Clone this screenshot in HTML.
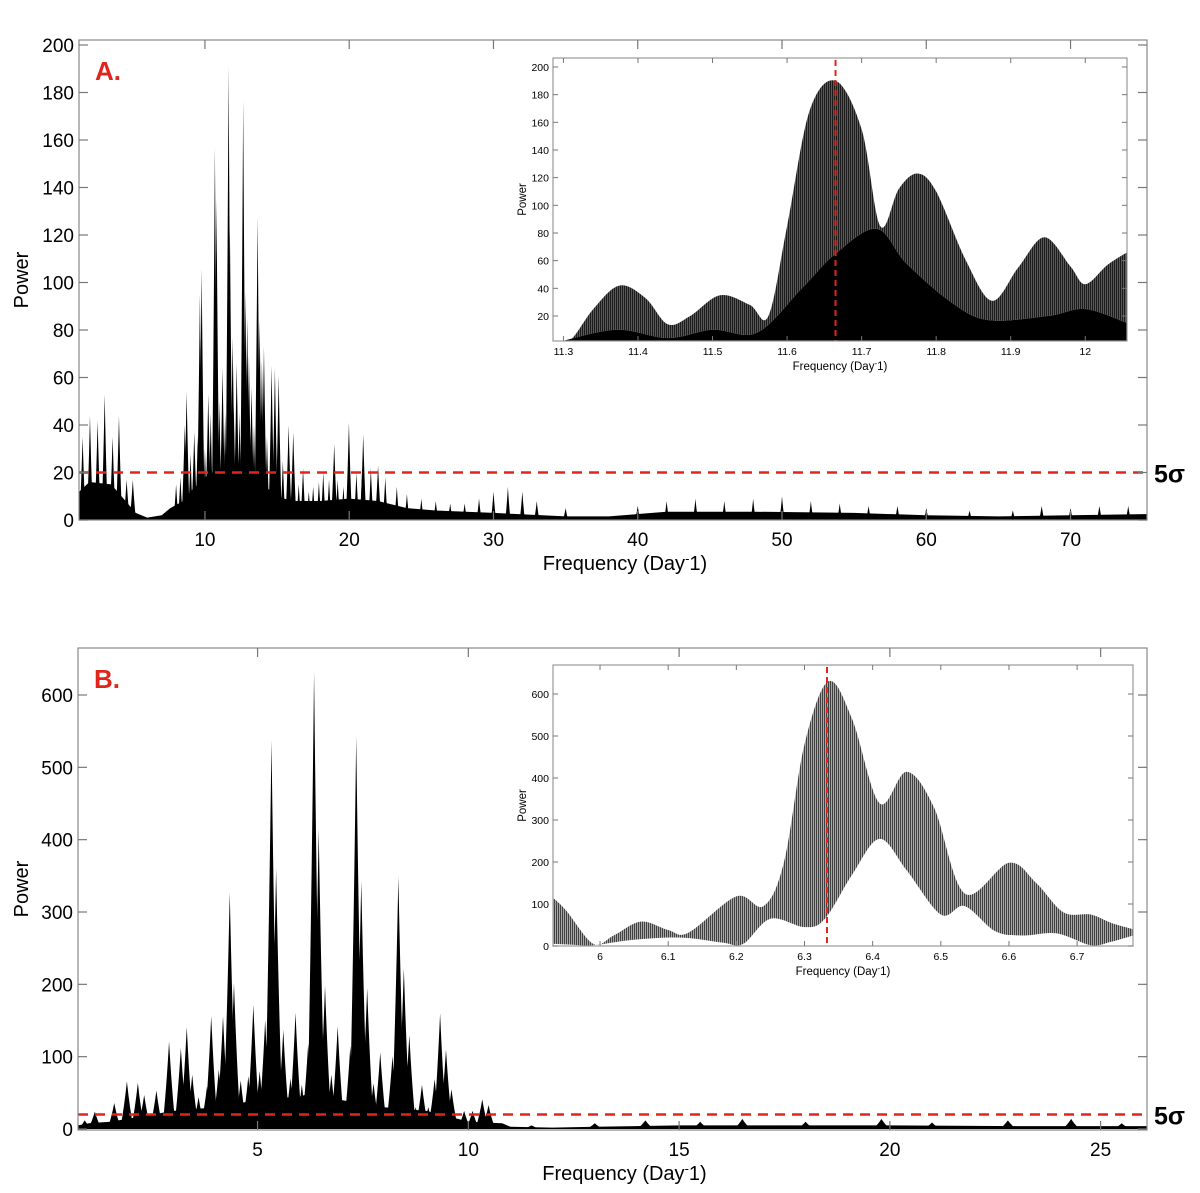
<!DOCTYPE html>
<html><head><meta charset="utf-8">
<style>
body{margin:0;background:#fff;}
svg{display:block;font-family:"Liberation Sans",sans-serif;}
</style></head>
<body>
<svg id="fig" width="1200" height="1193" viewBox="0 0 1200 1193" xmlns="http://www.w3.org/2000/svg">
<defs>
<pattern id="stripeA" width="2" height="4" patternUnits="userSpaceOnUse"><rect width="2" height="4" fill="#5a5a5a"/><rect width="1" height="4" fill="#1a1a1a"/></pattern>
<pattern id="stripeB" width="2" height="4" patternUnits="userSpaceOnUse"><rect width="2" height="4" fill="#a8a8a8"/><rect width="1" height="4" fill="#404040"/></pattern>
</defs>
</svg>
<script>
// ---------- Panel A data ----------
const peaksA_freq=[1.52,2.03,2.56,3.05,3.6,4.04,4.57,5.0,8.6,8.73,9.26,9.65,9.77,10.23,10.69,10.8,11.22,11.64,11.73,11.92,12.2,12.65,12.8,12.93,13.05,13.23,13.65,13.79,13.95,14.09,14.62,14.85,15.11,15.8,16.12,18.96,19.98,20.97,22.0];
const peaksA_power=[35,44,42,53,35,44,17,17,40,54,37,95,106,53,157,135,64,191,123,77,66,177,96,85,69,56,128,84,67,73,65,64,61,40,37,32,41,36,23];
const smallA_freq=[8.0,8.3,9.0,9.5,10.0,10.4,11.0,11.4,12.0,12.4,13.4,14.3,15.4,16.5,16.8,17.2,17.5,17.9,18.2,18.6,19.2,19.6,20.5,20.9,21.5,22.5,23.3,24,25,26,27,28,29,30,31,32,33,35,40,42,44,46,48,50,52,54,56,58,60,63,66,68,70,72,74];
const smallA_power=[15,18,28,35,30,45,50,45,48,45,40,35,25,15,22,12,14,16,20,17,17,14,20,22,22,18,14,11,9,8,7,7,9,12,14,12,8,5,6,8,9,8,9,10,8,7,6,6,5,4,4,6,5,6,6];
const floorA_freq=[1.3,2,3.5,4.5,5.2,6,7,7.6,8.5,9,10,11,12,13,14,15,16,18,20,22,24,26,30,35,38,42,48,55,60,65,70,75.3];
const floorA_power=[12,16,15,8,3,1,2,5,8,12,18,22,22,20,15,10,8,8,9,8,5,4,3,1.5,1.5,3.5,3.5,3,2,1.5,2,2.5];
const xTicksA=[10,20,30,40,50,60,70];
const yTicksA=[0,20,40,60,80,100,120,140,160,180,200];
// ---------- Inset A data ----------
const insetA_upper_freq=[11.286,11.31,11.34,11.375,11.41,11.44,11.47,11.51,11.55,11.575,11.6,11.63,11.665,11.7,11.725,11.75,11.775,11.8,11.84,11.875,11.91,11.945,11.98,12.0,12.03,12.056];
const insetA_upper_power=[0,3,25,42,33,14,20,35,28,20,85,168,190,155,85,112,123,110,60,31,55,77,56,43,57,66];
const insetA_lower_freq=[11.286,11.37,11.44,11.5,11.56,11.62,11.665,11.72,11.76,11.82,11.87,11.95,12.0,12.056];
const insetA_lower_power=[0,10,4,10,8,40,65,83,58,30,17,20,25,15];
const insetA_xTicks=[11.3,11.4,11.5,11.6,11.7,11.8,11.9,12];
const insetA_yTicks=[20,40,60,80,100,120,140,160,180,200];
const insetA_peak=11.665;
// ---------- Panel B data ----------
const peaksB_freq=[0.9,1.14,1.6,1.9,2.16,2.31,2.6,2.9,3.18,3.32,3.45,3.6,3.8,3.9,4.08,4.18,4.34,4.44,4.6,4.78,4.9,5.05,5.18,5.33,5.44,5.61,5.78,5.9,6.05,6.2,6.34,6.45,6.6,6.75,6.9,7.05,7.2,7.34,7.46,7.6,7.75,7.91,8.05,8.2,8.34,8.47,8.6,8.75,8.9,9.05,9.2,9.33,9.47,9.6,9.9,10.1,10.33,10.48];
const peaksB_power=[12,24,36,66,64,47,53,121,112,141,75,44,59,156,82,156,327,202,67,73,172,80,151,538,360,137,70,161,61,118,632,415,198,75,142,37,115,543,343,195,63,106,30,101,349,222,130,30,61,30,69,160,110,55,25,25,41,33];
const smallB_freq=[11.5,13,14.2,15.5,16.5,18,19.8,21,22.8,24.3,25.5];
const smallB_power=[5,8,12,10,14,10,14,9,12,14,8];
const floorB_freq=[0.74,1,1.5,2,3,4,5,6,6.3,7,8,9,9.7,10,10.8,11,12,13,15,18,20,23,26.1];
const floorB_power=[5,8,10,15,25,30,40,45,50,40,30,25,15,10,8,3,2,3,5,5,5,4,4];
const xTicksB=[5,10,15,20,25];
const yTicksB=[0,100,200,300,400,500,600];
// ---------- Inset B data ----------
const insetB_upper_freq=[5.931,5.95,5.99,6.02,6.06,6.1,6.13,6.2,6.24,6.27,6.3,6.335,6.37,6.41,6.45,6.49,6.535,6.6,6.64,6.68,6.72,6.75,6.782];
const insetB_upper_power=[115,85,5,25,58,38,32,118,95,200,480,630,540,340,415,330,125,198,150,80,75,55,40];
const insetB_lower_freq=[5.931,5.96,5.99,6.05,6.12,6.18,6.21,6.25,6.3,6.33,6.37,6.41,6.45,6.5,6.535,6.58,6.62,6.67,6.72,6.75,6.782];
const insetB_lower_power=[5,3,2,15,20,8,5,65,45,65,170,255,180,75,95,35,25,30,2,10,25];
const insetB_xTicks=[6,6.1,6.2,6.3,6.4,6.5,6.6,6.7];
const insetB_yTicks=[0,100,200,300,400,500,600];
const insetB_peak=6.333;
const threshold=20;

const NS='http://www.w3.org/2000/svg';
const svg=document.getElementById('fig');
function mk(tag,parent){const e=document.createElementNS(NS,tag);(parent||svg).appendChild(e);return e;}
function scale(d0,d1,r0,r1){return v=>r0+(v-d0)*(r1-r0)/(d1-d0);}

function frame(g,L,T,R,B,color){
  const r=mk('rect',g);r.setAttribute('x',L);r.setAttribute('y',T);r.setAttribute('width',R-L);r.setAttribute('height',B-T);
  r.setAttribute('fill','none');r.setAttribute('stroke',color);r.setAttribute('stroke-width','1.2');
  
  
}
function line(g,x1,y1,x2,y2,stroke,w){const l=mk('line',g);l.setAttribute('x1',x1);l.setAttribute('y1',y1);l.setAttribute('x2',x2);l.setAttribute('y2',y2);l.setAttribute('stroke',stroke);l.setAttribute('stroke-width',w);return l;}
function text(g,x,y,s,size,anchor,extra){const t=mk('text',g);t.setAttribute('x',x);t.setAttribute('y',y);t.setAttribute('font-size',size);t.setAttribute('text-anchor',anchor||'middle');t.textContent=s;if(extra)for(const k in extra)t.setAttribute(k,extra[k]);return t;}
function clip(id,L,T,R,B){const c=mk('clipPath',svg.querySelector('defs'));c.setAttribute('id',id);const r=mk('rect',c);r.setAttribute('x',L);r.setAttribute('y',T);r.setAttribute('width',R-L);r.setAttribute('height',B-T);}
function areaPath(fx,fy,xs,ys,base){let d='M'+fx(xs[0])+','+base;for(let i=0;i<xs.length;i++)d+=' L'+fx(xs[i]).toFixed(1)+','+fy(ys[i]).toFixed(1);d+=' L'+fx(xs[xs.length-1])+','+base+' Z';return d;}
function smooth(pts){let d='';for(let i=0;i<pts.length-1;i++){const p0=pts[Math.max(i-1,0)],p1=pts[i],p2=pts[i+1],p3=pts[Math.min(i+2,pts.length-1)];
  const c1x=p1[0]+(p2[0]-p0[0])/6,c1y=p1[1]+(p2[1]-p0[1])/6,c2x=p2[0]-(p3[0]-p1[0])/6,c2y=p2[1]-(p3[1]-p1[1])/6;
  d+=' C'+c1x.toFixed(1)+','+c1y.toFixed(1)+' '+c2x.toFixed(1)+','+c2y.toFixed(1)+' '+p2[0].toFixed(1)+','+p2[1].toFixed(1);}return d;}
function pts(fx,fy,xs,ys){return xs.map((x,i)=>[fx(x),fy(ys[i])]);}
function bandPath(fx,fy,ux,uy,lx,ly){const U=pts(fx,fy,ux,uy),Lw=pts(fx,fy,lx,ly).reverse();
  return 'M'+U[0][0]+','+U[0][1]+smooth(U)+' L'+Lw[0][0]+','+Lw[0][1]+smooth(Lw)+' Z';}
function smoothArea(fx,fy,xs,ys,base){const P=pts(fx,fy,xs,ys);return 'M'+P[0][0]+','+base+' L'+P[0][0]+','+P[0][1]+smooth(P)+' L'+P[P.length-1][0]+','+base+' Z';}

function mainPanel(o){
  const g=mk('g');
  
  
  const fx=scale(o.x0,o.x1,o.L,o.R), fy=scale(0,o.yMax,o.B0,o.yTopPx);
  clip(o.name+'-clip',o.L,o.T,o.R,o.B);
  const data=mk('g',g);data.setAttribute('clip-path','url(#'+o.name+'-clip)');
  
  
  const fl=mk('path',data);fl.setAttribute('d',areaPath(fx,fy,o.floorX,o.floorY,o.B0));fl.setAttribute('fill','#000');
  
  
  const spikes=(xs,ys,w,nm)=>{for(let i=0;i<xs.length;i++){const p=mk('path',data);
    const xl=fx(xs[i]-w),xc=fx(xs[i]),xr=fx(xs[i]+w),yt=fy(ys[i]),yb=o.B0;
    p.setAttribute('d','M'+xl+','+yb+' Q'+(xc-(xc-xl)*0.4)+','+(yb-(yb-yt)*0.45)+' '+xc+','+yt+' Q'+(xc+(xr-xc)*0.4)+','+(yb-(yb-yt)*0.45)+' '+xr+','+yb+' Z');
    p.setAttribute('fill','#000');
    
    }};
  spikes(o.smallX,o.smallY,o.wSmall,'minor-peak');
  spikes(o.peakX,o.peakY,o.w,'peak');
  const th=line(g,o.L,fy(threshold),o.R,fy(threshold),'#e0261c',2.5);th.setAttribute('stroke-dasharray','10,7');
  
  
  frame(g,o.L,o.T,o.R,o.B,'#888');
  o.xTicks.forEach(v=>{const X=fx(v);line(g,X,o.B,X,o.B-9,'#777',1.2);line(g,X,o.T,X,o.T+9,'#777',1.2);
    const t=text(g,X,o.B+26,String(v),19);});
  o.yTicks.forEach(v=>{const Y=fy(v);line(g,o.L,Y,o.L+9,Y,'#777',1.2);line(g,o.R,Y,o.R-9,Y,'#777',1.2);
    const t=text(g,o.L-5,Y+7,String(v),19,'end');});
  const xt=text(g,(o.L+o.R)/2+12,o.B+50,'Frequency (Day',20);const ts=mk('tspan',xt);ts.setAttribute('dy','-7');ts.setAttribute('font-size','13');ts.textContent='-';const ts2=mk('tspan',xt);ts2.setAttribute('dy','7');ts2.textContent='1)';
  
  const yt=text(g,0,0,'Power',20,'middle',{transform:'translate(28,'+((o.T+o.B)/2)+') rotate(-90)'});
  
  const lb=text(g,o.L+16,o.T+40,o.label,26,'start',{fill:'#e0261c','font-weight':'bold'});
  
  const sg=text(g,1154,fy(threshold)+10,'5σ',25,'start',{'font-weight':'bold'});
  
}

function inset(o){
  const g=mk('g');
  
  
  const bg=mk('rect',g);bg.setAttribute('x',o.L);bg.setAttribute('y',o.T);bg.setAttribute('width',o.R-o.L);bg.setAttribute('height',o.B-o.T);bg.setAttribute('fill','#fff');
  const fx=scale(o.x0,o.x1,o.L,o.R), fy=scale(o.y0v,o.y1v,o.y0px,o.y1px);
  clip(o.name+'-clip',o.L,o.T,o.R,o.B);
  const data=mk('g',g);data.setAttribute('clip-path','url(#'+o.name+'-clip)');
  const band=mk('path',data);band.setAttribute('d',bandPath(fx,fy,o.ux,o.uy,o.lx,o.ly));band.setAttribute('fill',o.fill);
  
  
  if(o.solidLower){const lo=mk('path',data);lo.setAttribute('d',smoothArea(fx,fy,o.lx,o.ly,o.B));lo.setAttribute('fill','#000');
    
    }
  const pk=line(g,fx(o.peak),o.T+2,fx(o.peak),o.B,'#e0261c',2);pk.setAttribute('stroke-dasharray','6,4');
  
  
  frame(g,o.L,o.T,o.R,o.B,'#999');
  o.xTicks.forEach(v=>{const X=fx(v);line(g,X,o.B,X,o.B-5,'#777',1);line(g,X,o.T,X,o.T+5,'#777',1);
    const t=text(g,X,o.B+14,String(v),10.5);});
  o.yTicks.forEach(v=>{const Y=fy(v);line(g,o.L,Y,o.L+5,Y,'#777',1);line(g,o.R,Y,o.R-5,Y,'#777',1);
    const t=text(g,o.L-4,Y+4,String(v),10.5,'end');});
  const xt=text(g,(o.L+o.R)/2,o.B+29,'Frequency (Day',11.5);const ts=mk('tspan',xt);ts.setAttribute('dy','-4');ts.setAttribute('font-size','8');ts.textContent='-';const ts2=mk('tspan',xt);ts2.setAttribute('dy','4');ts2.textContent='1)';
  
  const yt=text(g,0,0,'Power',11.5,'middle',{transform:'translate('+(o.L-27)+','+((o.T+o.B)/2)+') rotate(-90)'});
  
}

mainPanel({name:'panel-a',L:79,R:1147,T:40,B:520,B0:520,x0:1.27,x1:75.3,yMax:200,yTopPx:45,
  peakX:peaksA_freq,peakY:peaksA_power,smallX:smallA_freq,smallY:smallA_power,floorX:floorA_freq,floorY:floorA_power,
  w:0.22,wSmall:0.18,xTicks:xTicksA,yTicks:yTicksA,label:'A.'});
inset({name:'inset-a',L:553,R:1127,T:58,B:341,x0:11.286,x1:12.056,y0v:20,y1v:200,y0px:316,y1px:67,
  ux:insetA_upper_freq,uy:insetA_upper_power,lx:insetA_lower_freq,ly:insetA_lower_power,fill:'url(#stripeA)',solidLower:true,
  peak:insetA_peak,xTicks:insetA_xTicks,yTicks:insetA_yTicks});
mainPanel({name:'panel-b',L:78,R:1147,T:648,B:1130,B0:1129,x0:0.74,x1:26.1,yMax:600,yTopPx:695,
  peakX:peaksB_freq,peakY:peaksB_power,smallX:smallB_freq,smallY:smallB_power,floorX:floorB_freq,floorY:floorB_power,
  w:0.16,wSmall:0.2,xTicks:xTicksB,yTicks:yTicksB,label:'B.'});
inset({name:'inset-b',L:553,R:1133,T:665,B:946,x0:5.931,x1:6.782,y0v:0,y1v:600,y0px:946,y1px:694,
  ux:insetB_upper_freq,uy:insetB_upper_power,lx:insetB_lower_freq,ly:insetB_lower_power,fill:'url(#stripeB)',solidLower:false,
  peak:insetB_peak,xTicks:insetB_xTicks,yTicks:insetB_yTicks});
</script>
</body></html>
